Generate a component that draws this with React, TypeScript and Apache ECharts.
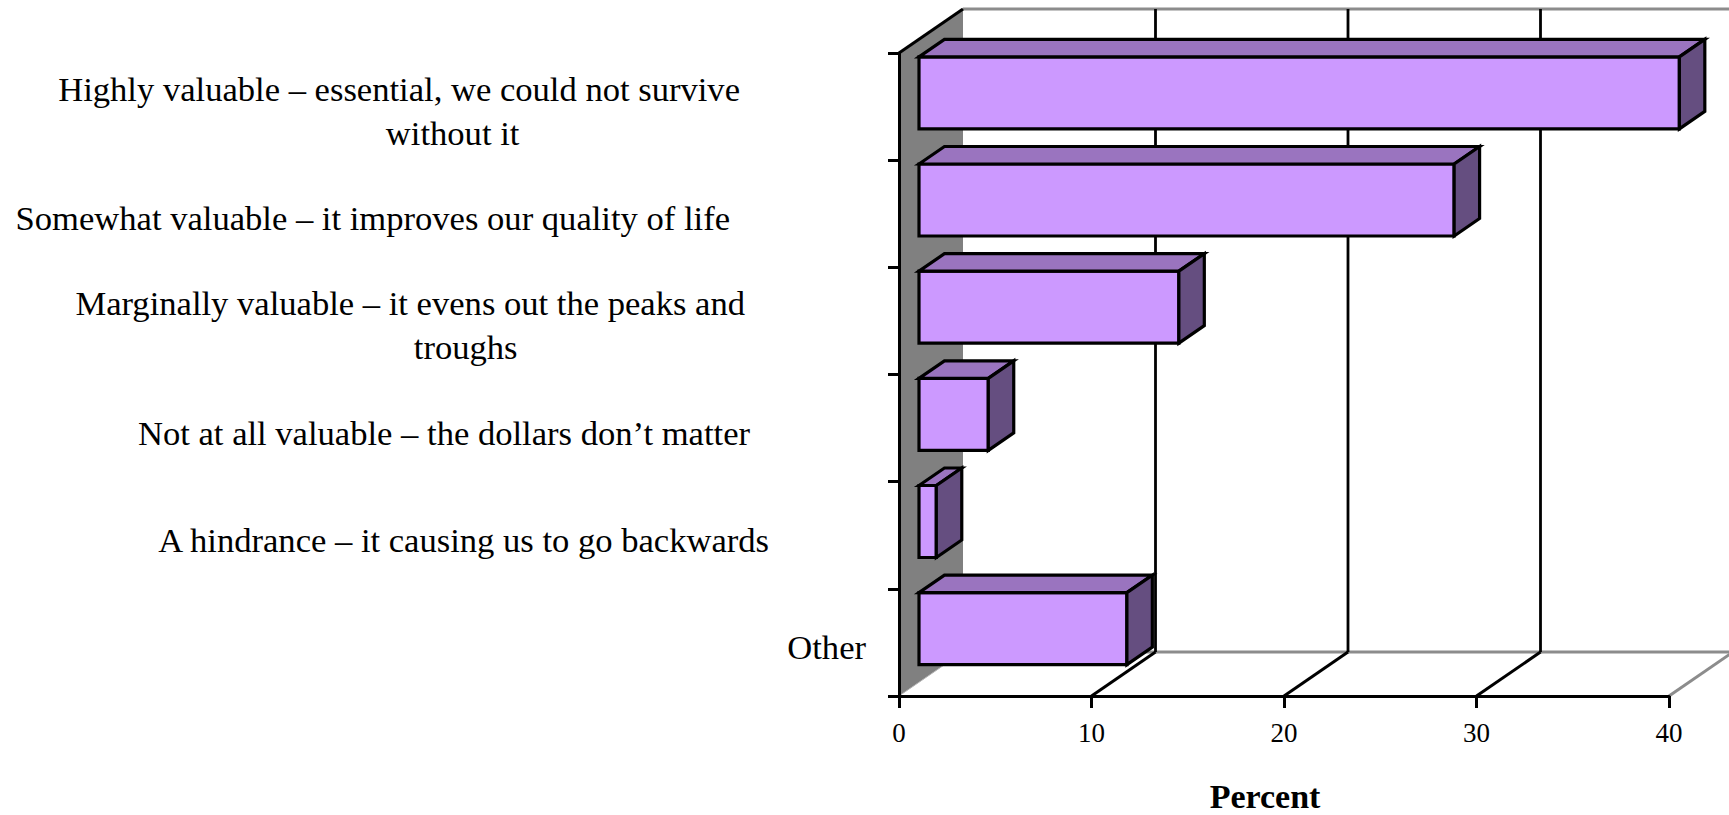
import React, { useEffect, useRef } from 'react';
import * as echarts from 'echarts';

// ---- data ----
const CATEGORIES = [
  'Highly valuable – essential, we could not survive\nwithout it',
  'Somewhat valuable – it improves our quality of life',
  'Marginally valuable – it evens out the peaks and\ntroughs',
  'Not at all valuable – the dollars don’t matter',
  'A hindrance – it causing us to go backwards',
  'Other',
];
const PERCENT = [39.5, 27.8, 13.5, 3.6, 0.9, 10.8];
const X_TICKS = [0, 10, 20, 30, 40];
const X_MAX = 40;

// ---- layout / style ----
const DX = 64; // depth offset of the back wall
const DY = -44;
const BAR_FRONT = 0.3125;
const BAR_BACK = 0.71;
const BAR_FRACTION = 0.672;
const SERIF = '"Times New Roman", "Liberation Serif", serif';
const FRONT = '#CC99FF';
const TOP = '#9A74BF';
const SIDE = '#654E80';
const WALL = '#808080';
const EDGE_GRAY = '#8C8C8C';
const LABEL_SIZE = 34.6;
// per label, per line: [padLeft, padRight]
const LABEL_PAD: number[][][] = [
  [[0, 126], [0, 19]],
  [[0, 136]],
  [[0, 121], [0, 10]],
  [[0, 116]],
  [[0, 96]],
  [[0, 0]],
];

const ln = (x1: number, y1: number, x2: number, y2: number, stroke: string, lineWidth: number) => ({
  type: 'line',
  shape: { x1, y1, x2, y2 },
  style: { stroke, lineWidth, fill: null },
});

export default function App() {
  const ref = useRef<HTMLDivElement>(null);
  useEffect(() => {
    const chart = echarts.init(ref.current!, null, { renderer: 'svg' });
    const rich: Record<string, any> = {};
    LABEL_PAD.forEach((lines, i) =>
      lines.forEach(([l, r], j) => {
        rich[`l${i}_${j}`] = {
          fontFamily: SERIF,
          fontSize: LABEL_SIZE,
          lineHeight: 44,
          color: '#000',
          align: 'center',
          padding: [0, r, 0, l],
        };
      })
    );

    const frameSeries = {
      type: 'custom',
      silent: true,
      z: 1,
      data: [[0, 0]],
      renderItem: (params: any, api: any) => {
        const cs = params.coordSys;
        const yT = cs.y;
        const yB = cs.y + cs.height;
        const x0 = api.coord([0, 0])[0];
        const xEnd = api.coord([X_MAX, 0])[0];
        const children: any[] = [];
        children.push({
          type: 'polygon',
          shape: { points: [[x0, yT], [x0 + DX, yT + DY], [x0 + DX, yB + DY], [x0, yB]] },
          style: { fill: WALL },
        });
        children.push(ln(x0, yB, x0 + DX, yB + DY, '#B4B4B4', 1));
        children.push(ln(x0 + DX, yT + DY, xEnd + DX, yT + DY, EDGE_GRAY, 3));
        children.push(ln(x0 + DX, yB + DY, xEnd + DX, yB + DY, EDGE_GRAY, 3));
        X_TICKS.forEach((v) => {
          if (v === 0) return;
          const x = api.coord([v, 0])[0];
          const c = v === X_MAX ? EDGE_GRAY : '#000';
          children.push(ln(x + DX, yT + DY, x + DX, yB + DY, c, 2.8));
          children.push(ln(x, yB, x + DX, yB + DY, c, 3));
        });
        children.push(ln(x0, yT, x0 + DX, yT + DY, '#000', 3));
        return { type: 'group', children };
      },
    };

    const barSeries = {
      type: 'custom',
      silent: true,
      z: 3,
      encode: { x: 0, y: 1 },
      data: PERCENT.map((v, i) => [v, i]),
      renderItem: (params: any, api: any) => {
        const v = api.value(0);
        const idx = api.value(1);
        const p0 = api.coord([0, idx]);
        const p1 = api.coord([v, idx]);
        const band = api.size([0, 1])[1];
        const h = band * BAR_FRACTION;
        const fx = DX * BAR_FRONT;
        const fy = DY * BAR_FRONT;
        const bx = DX * (BAR_BACK - BAR_FRONT);
        const by = DY * (BAR_BACK - BAR_FRONT);
        const xl = p0[0] + fx;
        const xr = p1[0] + fx;
        const yt = p0[1] + fy - h / 2;
        const yb = p0[1] + fy + h / 2;
        const stroke = { stroke: '#000', lineWidth: 3.2 };
        return {
          type: 'group',
          children: [
            {
              type: 'polygon',
              shape: { points: [[xl, yt], [xr, yt], [xr, yb], [xl, yb]] },
              style: { fill: FRONT, ...stroke },
            },
            {
              type: 'polygon',
              shape: { points: [[xl, yt], [xl + bx, yt + by], [xr + bx, yt + by], [xr, yt]] },
              style: { fill: TOP, ...stroke },
            },
            {
              type: 'polygon',
              shape: { points: [[xr, yt], [xr + bx, yt + by], [xr + bx, yb + by], [xr, yb]] },
              style: { fill: SIDE, ...stroke },
            },
          ],
        };
      },
    };

    const option: any = {
      animation: false,
      backgroundColor: '#fff',
      grid: { left: 899, top: 53, width: 770, height: 643, outerBoundsMode: 'none', containLabel: false },
      xAxis: {
        type: 'value',
        min: 0,
        max: X_MAX,
        interval: 10,
        z: 5,
        axisLine: { show: true, lineStyle: { color: '#000', width: 3 } },
        axisTick: { show: true, length: 12, lineStyle: { color: '#000', width: 3 } },
        axisLabel: { color: '#000', fontFamily: SERIF, fontSize: 27, margin: 23 },
        splitLine: { show: false },
        name: 'Percent',
        nameLocation: 'middle',
        nameGap: 85,
        nameTextStyle: {
          fontFamily: SERIF,
          fontSize: 34,
          lineHeight: 30,
          fontWeight: 'bold',
          color: '#000',
          padding: [0, 38, 0, 0],
        },
      },
      yAxis: {
        type: 'category',
        inverse: true,
        data: CATEGORIES,
        z: 5,
        axisLine: { show: true, lineStyle: { color: '#000', width: 3 } },
        axisTick: { show: true, length: 11, lineStyle: { color: '#000', width: 3 } },
        axisLabel: {
          interval: 0,
          align: 'right',
          margin: 33,
          padding: [9, 0, 0, 0],
          fontFamily: SERIF,
          fontSize: LABEL_SIZE,
          color: '#000',
          formatter: (val: string, idx: number) =>
            val
              .split('\n')
              .map((line, j) => `{l${idx}_${j}|${line}}`)
              .join('\n'),
          rich,
        },
        splitLine: { show: false },
      },
      series: [frameSeries, barSeries],
    };
    chart.setOption(option);
    return () => chart.dispose();
  }, []);
  return (
    <div
      ref={ref}
      style={{ position: 'fixed', left: 0, top: 0, width: 1729, height: 815 }}
    />
  );
}
